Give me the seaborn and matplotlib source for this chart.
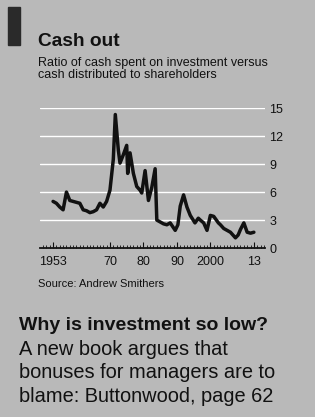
import numpy as np
import pandas as pd
import matplotlib
matplotlib.use("Agg")
import matplotlib.pyplot as plt
from matplotlib.ticker import FixedLocator, MultipleLocator
import seaborn as sns

# ratio of cash spent on investment vs cash distributed to shareholders
years = [1953, 1954, 1955, 1956, 1957, 1958, 1959, 1960, 1961, 1962,
         1963, 1964, 1965, 1966, 1967, 1968, 1969, 1970, 1971, 1971.6,
         1972.5, 1973, 1974, 1975, 1975.3, 1976, 1977, 1978, 1979, 1979.5,
         1980.5, 1981.5, 1982.5, 1983.5, 1984, 1985, 1986, 1987, 1988, 1989.5,
         1990.3, 1991, 1992, 1993, 1994, 1995.4, 1996.4, 1997, 1998, 1999,
         2000, 2001, 2002.4, 2003, 2004, 2005, 2006, 2007.5, 2008.3, 2009,
         2010, 2011, 2012, 2013]
ratio = [5.0, 4.8, 4.4, 4.1, 6.0, 5.1, 5.0, 4.9, 4.8, 4.1,
         4.0, 3.8, 3.9, 4.1, 4.8, 4.4, 5.0, 6.2, 9.5, 14.3,
         10.5, 9.1, 10.0, 11.0, 8.0, 10.2, 8.0, 6.6, 6.2, 5.9,
         8.3, 5.1, 6.5, 8.5, 3.0, 2.8, 2.6, 2.5, 2.7, 1.9,
         2.5, 4.5, 5.7, 4.4, 3.5, 2.7, 3.2, 3.0, 2.7, 1.9,
         3.5, 3.4, 2.7, 2.5, 2.1, 1.9, 1.7, 1.1, 1.4, 2.0,
         2.7, 1.7, 1.6, 1.7]

xtick_pos = [1953, 1970, 1980, 1990, 2000, 2013]
xtick_labels = ["1953", "70", "80", "90", "2000", "13"]
ytick_pos = [0, 3, 6, 9, 12, 15]

subtitle_lines = ["Ratio of cash spent on investment versus",
                  "cash distributed to shareholders"]
body_lines = ["A new book argues that",
              "bonuses for managers are to",
              "blame: Buttonwood, page 62"]

bg = "#b9b9b9"
ink = "#111111"

sns.set_style("white", {"axes.facecolor": bg, "figure.facecolor": bg})
plt.rcParams["font.family"] = ["Liberation Sans", "DejaVu Sans"]

df = pd.DataFrame({"year": years, "ratio": ratio})

fig = plt.figure(figsize=(3.15, 4.17), dpi=100)
ax = fig.add_axes([0.127, 0.405, 0.714, 0.336])

sns.lineplot(data=df, x="year", y="ratio", ax=ax, color=ink, linewidth=2.5)

ax.set_xlim(1949.1, 2016.3)
ax.set_ylim(0, 15)
ax.set_xlabel("")
ax.set_ylabel("")

ax.yaxis.set_major_locator(FixedLocator(ytick_pos))
ax.yaxis.tick_right()
ax.tick_params(axis="y", length=0, pad=3, labelsize=9, colors=ink)
ax.grid(axis="y", color="white", linewidth=1.0)
ax.set_axisbelow(True)

ax.set_xticks(xtick_pos)
ax.set_xticklabels(xtick_labels)
ax.xaxis.set_minor_locator(MultipleLocator(1))
ax.tick_params(axis="x", which="both", bottom=True)
ax.tick_params(axis="x", which="major", direction="in", length=4.5, width=0.8,
               pad=6, labelsize=9, colors=ink)
ax.tick_params(axis="x", which="minor", direction="in", length=2.2, width=0.6,
               colors=ink)

for side in ["top", "left", "right"]:
    ax.spines[side].set_visible(False)
ax.spines["bottom"].set_color(ink)
ax.spines["bottom"].set_linewidth(1.3)

# header block
fig.patches.append(plt.Rectangle((8 / 315, 1 - 45 / 417), 12 / 315, 38 / 417,
                                 transform=fig.transFigure, color="#2a2a2a"))
fig.text(38 / 315, 1 - 46 / 417, "Cash out", fontsize=13.8, fontweight="bold",
         color=ink, va="baseline")
for i, line in enumerate(subtitle_lines):
    fig.text(38 / 315, 1 - (66 + 11.5 * i) / 417, line, fontsize=9,
             color=ink, va="baseline")
fig.text(38 / 315, 1 - 287 / 417, "Source: Andrew Smithers", fontsize=8,
         color=ink, va="baseline")

fig.text(19 / 315, 1 - 330 / 417, "Why is investment so low?", fontsize=14,
         fontweight="bold", color=ink, va="baseline")
for i, line in enumerate(body_lines):
    fig.text(19 / 315, 1 - (355 + 23.5 * i) / 417, line, fontsize=14.4,
             color=ink, va="baseline")

fig.savefig("out.png", dpi=100, facecolor=bg)
